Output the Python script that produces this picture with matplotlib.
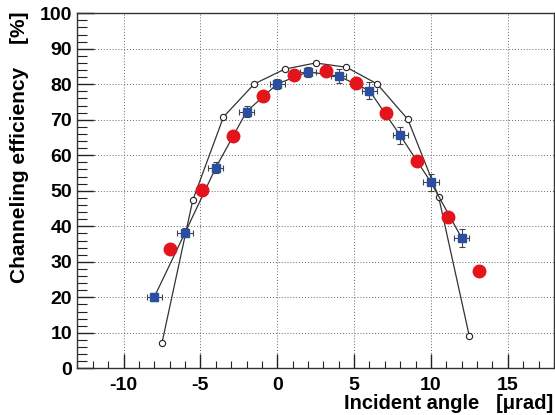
import matplotlib
matplotlib.use("Agg")
import matplotlib.pyplot as plt
from matplotlib.ticker import MultipleLocator

# open circles (connected by line)
circ_x = [-7.5, -5.5, -3.5, -1.5, 0.5, 2.5, 4.5, 6.5, 8.5, 10.5, 12.5]
circ_y = [7.2, 47.3, 70.8, 80.1, 84.3, 86.0, 84.8, 80.1, 70.1, 48.3, 9.0]

# blue squares with error bars (connected by line)
sq_x = [-8, -6, -4, -2, 0, 2, 4, 6, 8, 10, 12]
sq_y = [20.1, 38.2, 56.5, 72.3, 80.1, 83.5, 82.3, 78.2, 65.6, 52.4, 36.7]
sq_xerr = [0.5, 0.5, 0.5, 0.5, 0.5, 0.5, 0.5, 0.5, 0.5, 0.5, 0.5]
sq_yerr = [1.0, 1.2, 1.5, 1.5, 1.5, 1.5, 2.0, 2.4, 2.4, 2.4, 2.4]

# red filled circles
red_x = [-7.0, -4.9, -2.9, -0.9, 1.1, 3.2, 5.1, 7.1, 9.1, 11.1, 13.1]
red_y = [33.7, 50.2, 65.4, 76.7, 82.6, 83.8, 80.5, 71.9, 58.5, 42.5, 27.5]

xticks = [-10, -5, 0, 5, 10, 15]
yticks = [0, 10, 20, 30, 40, 50, 60, 70, 80, 90, 100]

plt.rcParams['font.family'] = ['Liberation Sans', 'DejaVu Sans']
plt.rcParams['axes.unicode_minus'] = False

fig = plt.figure(figsize=(5.55, 4.15), dpi=100)
ax = fig.add_axes([0.1396, 0.1125, 0.998 - 0.1396, 0.968 - 0.1125])

ax.set_xlim(-13, 18)
ax.set_ylim(0, 100)

ax.grid(True, which='major', color='#666666', linestyle=(0, (1, 2)), linewidth=0.7)
ax.set_axisbelow(True)

ax.plot(circ_x, circ_y, color='#333333', linewidth=0.9, marker='o', markersize=4.5,
        markerfacecolor='white', markeredgecolor='#222222', markeredgewidth=0.8, zorder=3)
ax.plot(sq_x, sq_y, color='#333333', linewidth=0.9, zorder=3)
ax.errorbar(sq_x, sq_y, xerr=sq_xerr, yerr=sq_yerr, fmt='s', color='#2b4fa0',
            markersize=5.5, ecolor='#444444', elinewidth=0.8, capsize=2, capthick=0.8,
            zorder=4)
ax.plot(red_x, red_y, linestyle='none', marker='o', markersize=9,
        color='#e3141c', markeredgecolor='#e3141c', zorder=5)

ax.set_xticks(xticks)
ax.set_yticks(yticks)
ax.set_xticklabels([str(v) for v in xticks])
ax.set_yticklabels([str(v) for v in yticks])
ax.xaxis.set_minor_locator(MultipleLocator(1))
ax.yaxis.set_minor_locator(MultipleLocator(2))
ax.tick_params(axis='both', which='both', direction='in', top=False, right=False,
               colors='#222222')
ax.tick_params(axis='x', which='major', length=10, width=1.0, pad=6)
ax.tick_params(axis='x', which='minor', length=5, width=0.8)
ax.tick_params(axis='y', which='major', length=12, width=1.0, pad=4)
ax.tick_params(axis='y', which='minor', length=7, width=0.8)
for lab in ax.get_xticklabels() + ax.get_yticklabels():
    lab.set_fontsize(14)
    lab.set_fontweight('bold')
    lab.set_color('black')
for s in ax.spines.values():
    s.set_color('#333333')
    s.set_linewidth(1.0)

fig.text(0.997, 0.014, 'Incident angle   [\u03bcrad]', ha='right', va='baseline',
         fontsize=14.5, fontweight='bold')
fig.text(0.036, 0.972, 'Channeling efficiency    [%]', ha='center', va='top',
         rotation=90, fontsize=15, fontweight='bold')

fig.savefig('out.png', dpi=100)
